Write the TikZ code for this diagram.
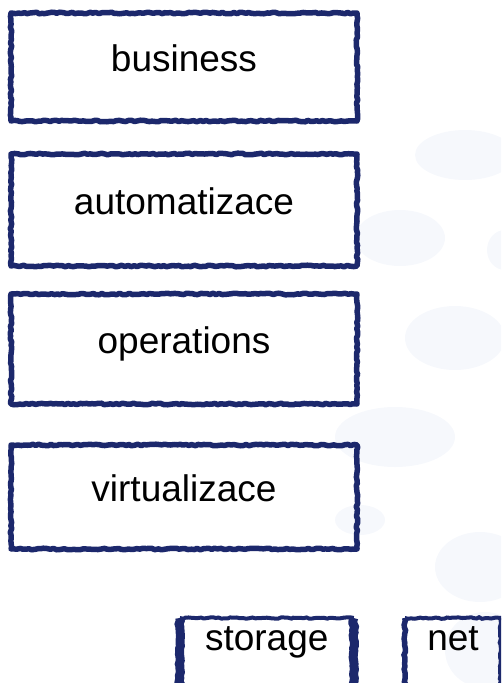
\documentclass[tikz,border=0pt]{standalone}
\usepackage{fontspec}
\setmainfont{Liberation Sans}
\usetikzlibrary{decorations.pathmorphing}
\definecolor{ink}{RGB}{28,40,108}
\definecolor{blobc}{RGB}{246,248,252}
\tikzset{
  rough/.style={decorate, decoration={random steps, segment length=3pt, amplitude=0.8pt}},
  layerbox/.style={draw=ink, line width=5.5pt, line join=round, rough,
    minimum width=346pt, inner sep=0pt, text height=27pt, text depth=19pt,
    font=\fontsize{37}{44}\selectfont, text=black},
  basebox/.style={font=\fontsize{37}{44}\selectfont, text=black, inner sep=0pt,
    anchor=north, minimum height=120pt, text height=27pt, text depth=83pt},
  side/.style={draw=ink, line width=9pt, rough},
  topline/.style={draw=ink, line width=4pt, rough},
  blob/.style={fill=blobc}
}
\begin{document}
\begin{tikzpicture}[x=1pt,y=-1pt]
\useasboundingbox (0,0) rectangle (501,683);
\clip (0,0) rectangle (501,683);
% faint background blobs
\fill[blob] (465,155) ellipse [x radius=50, y radius=25];
\fill[blob] (400,238) ellipse [x radius=45, y radius=28];
\fill[blob] (505,250) ellipse [x radius=18, y radius=20];
\fill[blob] (455,338) ellipse [x radius=50, y radius=32];
\fill[blob] (395,437) ellipse [x radius=60, y radius=30];
\fill[blob] (360,520) ellipse [x radius=25, y radius=15];
\fill[blob] (480,567) ellipse [x radius=45, y radius=35];
\fill[blob] (485,650) ellipse [x radius=40, y radius=38];
% layer boxes
\node[layerbox, minimum height=108pt] (business) at (184,67) {business};
\node[layerbox, minimum height=112pt] (automat) at (184,210) {automatizace};
\node[layerbox, minimum height=110pt] (oper) at (184,349) {operations};
\node[layerbox, minimum height=104pt] (virt) at (184,497) {virtualizace};
% base boxes (open at the bottom edge of the picture)
\node[basebox, minimum width=173.5pt] (storage) at (266.75,618) {storage};
\draw[topline] (storage.north west) -- (storage.north east);
\draw[side] (storage.south west) -- (storage.north west);
\draw[side] (storage.north east) -- (storage.south east);
\node[basebox, minimum width=96pt] (net) at (453,618) {net};
\draw[topline] (net.north west) -- (net.north east);
\draw[topline, line width=5.5pt] (net.south west) -- (net.north west);
\draw[topline, line width=5.5pt] (net.north east) -- (net.south east);
\end{tikzpicture}
\end{document}
